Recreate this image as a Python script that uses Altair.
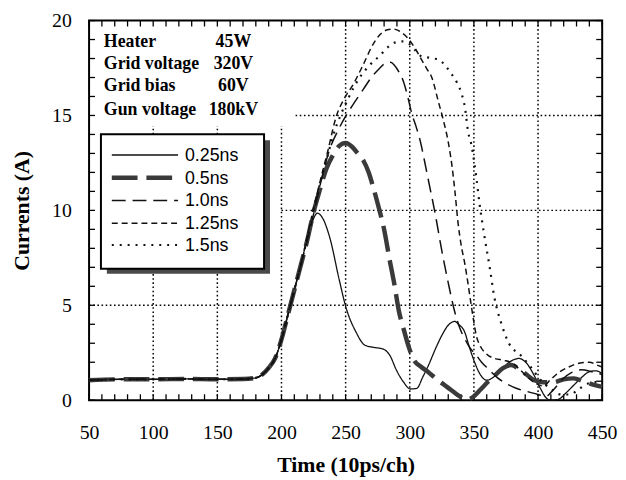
import altair as alt
import pandas as pd

series_names = ["0.25ns", "0.5ns", "1.0ns", "1.25ns", "1.5ns"]

# shared baseline & rising edge
base_x = [50, 75, 100, 125, 150, 170, 180, 185, 190, 195, 200, 205, 210, 215]
base_y = [1.05, 1.1, 1.1, 1.12, 1.1, 1.12, 1.18, 1.35, 1.7, 2.2, 3.2, 4.5, 5.8, 7.1]

s025_x = base_x + [220, 224, 228, 232, 237.5, 245, 250, 258, 265, 272, 279, 285, 289, 295, 300.5, 305.6,
                   310, 314.6, 320, 324.9, 330, 335, 338, 342.9, 346, 350, 355, 360, 366, 374, 380, 385,
                   391, 397, 402, 406, 410, 416, 422, 428, 434, 440, 445, 450]
s025_y = base_y + [8.5, 9.4, 9.85, 9.6, 8.6, 6.35, 4.95, 3.6, 2.9, 2.78, 2.7, 2.3, 1.67, 0.97, 0.59, 0.63,
                   1.2, 1.84, 2.7, 3.4, 3.95, 4.15, 4.0, 3.58, 2.9, 2.1, 1.35, 1.05, 1.25, 1.8, 2.1, 2.2,
                   1.95, 1.3, 0.6, 0.15, 0.0, 0.05, 0.4, 0.8, 1.2, 1.5, 1.55, 1.4]

s05_x = base_x + [220, 225, 230, 235, 240, 245, 250, 255, 260, 264, 268, 272, 276, 280, 284, 288, 291.5,
                  295, 299, 303, 309, 315, 321, 327, 333, 339, 344, 349, 355, 361, 367, 373, 379, 385,
                  391, 397, 404, 412, 420, 428, 435, 443, 450]
s05_y = base_y + [8.4, 9.9, 11.1, 12.2, 12.9, 13.4, 13.55, 13.35, 12.95, 12.6, 12.0, 11.1, 10.1, 9.0, 7.5,
                  6.1, 4.7, 3.8, 2.85, 2.15, 1.75, 1.45, 1.1, 0.8, 0.5, 0.2, 0.02, 0.15, 0.55, 0.97,
                  1.35, 1.7, 1.85, 1.65, 1.35, 1.05, 0.95, 0.95, 1.1, 1.15, 1.0, 0.82, 0.7]

s10_x = base_x + [220, 225, 230, 237.5, 244, 250.4, 257, 264, 270, 276, 281, 285, 288, 291.5, 295, 298,
                  301.8, 305, 308.2, 311.5, 314.6, 319.8, 324.9, 330, 335.2, 339, 342.9, 347, 351.9, 356,
                  360.8, 368, 376, 384, 392, 400, 406, 412, 419, 426, 434, 442, 450]
s10_y = base_y + [8.4, 9.8, 11.3, 13.2, 14.2, 15.0, 15.7, 16.4, 17.0, 17.45, 17.75, 17.8, 17.65, 17.3,
                  16.8, 16.1, 15.04, 14.4, 13.65, 12.6, 11.56, 9.83, 7.9, 6.18, 4.62, 3.8, 3.23, 2.75,
                  2.36, 2.0, 1.67, 1.2, 0.85, 0.6, 0.45, 0.3, 0.2, 0.55, 1.1, 1.45, 1.6, 1.5, 1.35]

s125_x = base_x + [220, 225, 230, 236, 242.7, 249, 255.6, 263.2, 271, 276, 282, 287.6, 293, 299, 304,
                   309.5, 313.3, 317.2, 322.3, 326, 330, 333, 335.2, 337.7, 340, 342.9, 345.5, 348, 350,
                   351.9, 355, 359.6, 366, 373.7, 380, 386, 392, 398, 404, 410, 416, 424, 432, 440, 446, 450]
s125_y = base_y + [8.6, 10.1, 11.5, 13.1, 14.95, 15.9, 16.6, 17.6, 18.7, 19.2, 19.5, 19.55, 19.4, 19.03,
                   18.55, 17.9, 17.46, 17.0, 15.73, 14.8, 13.6, 12.3, 11.0, 9.3, 8.2, 7.2, 6.1, 4.96, 4.1,
                   3.4, 2.85, 2.45, 2.2, 2.1, 1.95, 1.6, 1.2, 0.9, 0.75, 1.1, 1.45, 1.75, 1.95, 2.0, 1.85, 1.75]

s15_x = base_x + [220, 225, 230, 236, 242, 246, 252, 260, 268, 277.4, 283, 289, 294, 299, 304, 309.5,
                  314.6, 319, 323.6, 327.5, 331.3, 336.5, 340.3, 342.9, 345.4, 348, 351.9, 354.4, 358.3,
                  362.2, 366, 371.1, 377.5, 386.6, 394.3, 402, 410, 418, 425, 432, 440, 450]
s15_y = base_y + [8.5, 10.0, 11.4, 12.9, 14.3, 15.0, 15.9, 16.9, 17.6, 18.2, 18.6, 18.85, 18.9, 18.8,
                  18.45, 18.1, 18.05, 18.0, 17.9, 17.65, 17.3, 16.77, 16.16, 15.47, 14.17, 13.47, 11.73,
                  10.35, 8.6, 7.05, 5.4, 4.1, 2.97, 2.36, 1.75, 1.06, 0.6, 0.3, 0.3, 0.6, 0.9, 1.0]

series_x = [s025_x, s05_x, s10_x, s125_x, s15_x]
series_y = [s025_y, s05_y, s10_y, s125_y, s15_y]

line_colors = ["#111111", "#3a3a3a", "#111111", "#111111", "#111111"]
line_dashes = [[1, 0], [26, 9], [14, 7], [6, 4], [2, 6]]
line_widths = [1.3, 4.5, 1.5, 1.5, 2.2]

x_ticks = [50, 100, 150, 200, 250, 300, 350, 400, 450]
y_ticks = [0, 5, 10, 15, 20]

# dotted grid segments (broken where the annotation and legend sit)
vgrid_x = [100, 100, 150, 150, 200, 250, 300, 350, 400]
vgrid_y = [0, 14.0, 0, 14.0, 0, 0, 0, 0, 0]
vgrid_y2 = [6.75, 14.45, 6.75, 14.45, 14.45, 20, 20, 20, 20]
hgrid_y = [5, 10, 15]
hgrid_x = [50, 200, 211]
hgrid_x2 = [450, 450, 450]

minor_x = list(range(50, 451, 10))
minor_y = list(range(0, 21, 1))

note_labels = ["Heater", "Grid voltage", "Grid bias", "Gun voltage"]
note_values = ["45W", "320V", "60V", "180kV"]
note_y = [18.59, 17.46, 16.29, 15.04]
note_label_x = [61.5] * 4
note_value_x = [162.5] * 4

W, H = 519, 384

rows = []
for name, xs, ys in zip(series_names, series_x, series_y):
    for xv, yv in zip(xs, ys):
        rows.append({"series": name, "t": xv, "I": yv})
df = pd.DataFrame(rows)

xscale = alt.Scale(domain=[50, 450], nice=False)
yscale = alt.Scale(domain=[0, 20], nice=False)

xaxis = alt.Axis(values=x_ticks, title="Time (10ps/ch)", grid=False, ticks=False, domain=False,
                 labelFont="Liberation Serif", labelFontSize=20, labelPadding=23, labelColor="black",
                 titleFont="Liberation Serif", titleFontSize=22, titleFontWeight="bold",
                 titleColor="black", titlePadding=12, labelFlush=False)
yaxis = alt.Axis(values=y_ticks, title="Currents (A)", grid=False, ticks=False, domain=False,
                 labelFont="Liberation Serif", labelFontSize=20, labelPadding=18, labelColor="black",
                 titleFont="Liberation Serif", titleFontSize=22, titleFontWeight="bold",
                 titleColor="black", titlePadding=18, labelFlush=False)

lines = alt.Chart(df).mark_line(interpolate="monotone", strokeCap="butt").encode(
    x=alt.X("t:Q", scale=xscale, axis=xaxis),
    y=alt.Y("I:Q", scale=yscale, axis=yaxis),
    color=alt.Color("series:N", scale=alt.Scale(type="ordinal", domain=series_names, range=line_colors),
                    legend=None),
    strokeDash=alt.StrokeDash("series:N", scale=alt.Scale(type="ordinal", domain=series_names,
                                                          range=line_dashes), legend=None),
    strokeWidth=alt.StrokeWidth("series:N", scale=alt.Scale(type="ordinal", domain=series_names,
                                                            range=line_widths), legend=None),
    order=alt.Order("t:Q"),
)

vgrid = alt.Chart(pd.DataFrame({"x": vgrid_x, "y": vgrid_y, "y2": vgrid_y2})).mark_rule(
    color="black", strokeDash=[1.6, 2.6], strokeWidth=1.5).encode(
    x=alt.X("x:Q", scale=xscale), y=alt.Y("y:Q", scale=yscale), y2="y2:Q")
hgrid = alt.Chart(pd.DataFrame({"y": hgrid_y, "x": hgrid_x, "x2": hgrid_x2})).mark_rule(
    color="black", strokeDash=[1.6, 2.6], strokeWidth=1.5).encode(
    y=alt.Y("y:Q", scale=yscale), x=alt.X("x:Q", scale=xscale), x2="x2:Q")

dfx = pd.DataFrame({"x": minor_x})
dfy = pd.DataFrame({"y": minor_y})
tk = dict(color="black", strokeWidth=1.3)
tick_bottom = alt.Chart(dfx).mark_rule(**tk).encode(
    x=alt.X("x:Q", scale=xscale), y=alt.value(H), y2=alt.value(H - 6))
tick_top = alt.Chart(dfx).mark_rule(**tk).encode(
    x=alt.X("x:Q", scale=xscale), y=alt.value(0), y2=alt.value(6))
tick_left = alt.Chart(dfy).mark_rule(**tk).encode(
    y=alt.Y("y:Q", scale=yscale), x=alt.value(0), x2=alt.value(6))
tick_right = alt.Chart(dfy).mark_rule(**tk).encode(
    y=alt.Y("y:Q", scale=yscale), x=alt.value(W), x2=alt.value(W - 6))

notes = pd.DataFrame({"label": note_labels, "value": note_values, "y": note_y,
                      "lx": note_label_x, "vx": note_value_x})
note_l = alt.Chart(notes).mark_text(font="Liberation Serif", fontSize=18, fontWeight="bold",
                                    align="left", baseline="alphabetic", color="black").encode(
    x=alt.X("lx:Q", scale=xscale), y=alt.Y("y:Q", scale=yscale), text="label:N")
note_v = alt.Chart(notes).mark_text(font="Liberation Serif", fontSize=18, fontWeight="bold",
                                    align="center", baseline="alphabetic", color="black").encode(
    x=alt.X("vx:Q", scale=xscale), y=alt.Y("y:Q", scale=yscale), text="value:N")

# legend box with drop shadow (drawn by hand so the entry spacing matches)
one = pd.DataFrame({"a": [0]})
shadow = alt.Chart(one).mark_rect(color="#4a4a4a").encode(
    x=alt.value(18), x2=alt.value(183), y=alt.value(121), y2=alt.value(256))
frame = alt.Chart(one).mark_rect(fill="white", stroke="black", strokeWidth=2).encode(
    x=alt.value(12), x2=alt.value(177), y=alt.value(115), y2=alt.value(251))

legend_layers = []
row_y = [136, 159, 182, 205, 227]
for i, name in enumerate(series_names):
    legend_layers.append(
        alt.Chart(one).mark_rule(color=line_colors[i], strokeDash=line_dashes[i],
                                 strokeWidth=line_widths[i], strokeCap="butt").encode(
            x=alt.value(23), x2=alt.value(90), y=alt.value(row_y[i])))
    legend_layers.append(
        alt.Chart(one).mark_text(text=name, font="Liberation Sans", fontSize=18, align="left",
                                 baseline="middle", color="black").encode(
            x=alt.value(97), y=alt.value(row_y[i] + 1)))

chart = alt.layer(vgrid, hgrid, tick_bottom, tick_top, tick_left, tick_right,
                  shadow, frame, lines, note_l, note_v, *legend_layers).properties(
    width=W, height=H,
    autosize=alt.AutoSizeParams(type="none"),
    padding={"left": 82, "top": 10, "right": 16, "bottom": 76},
    background="white",
).configure_view(stroke="black", strokeWidth=2)

chart.save("out.html", embed_options={"renderer": "svg", "actions": False})
